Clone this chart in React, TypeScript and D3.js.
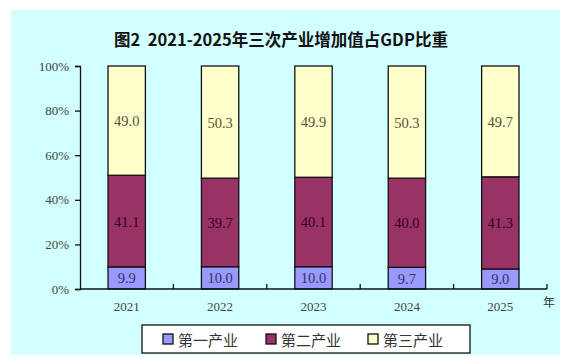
import React, { useEffect, useRef } from 'react';
import * as d3 from 'd3';

const years = ['2021', '2022', '2023', '2024', '2025'];
const primary = [9.9, 10.0, 10.0, 9.7, 9.0];
const secondary = [41.1, 39.7, 40.1, 40.0, 41.3];
const tertiary = [49.0, 50.3, 49.9, 50.3, 49.7];
const seriesNames = ['第一产业', '第二产业', '第三产业'];
const seriesColors = ['#9999ff', '#993366', '#ffffcc'];
const labelColors = ['#333366', '#330022', '#555533'];
const yTicks = [0, 20, 40, 60, 80, 100];

export default function App() {
  const ref = useRef<SVGSVGElement>(null);

  useEffect(() => {
    const svg = d3.select(ref.current);
    svg.selectAll('*').remove();

    const serif = '"Liberation Serif", "DejaVu Serif", serif';
    const cjk = '"Noto Sans CJK SC", sans-serif';

    // panel background
    svg.append('rect')
      .attr('x', 11).attr('y', 10).attr('width', 549).attr('height', 345)
      .attr('fill', '#d2ffff');

    svg.append('text')
      .attr('x', 281).attr('y', 46)
      .attr('text-anchor', 'middle')
      .attr('font-family', cjk)
      .attr('font-weight', 'bold')
      .attr('font-size', 16.5)
      .attr('fill', '#111')
      .text('图2\u00a0\u00a02021-2025年三次产业增加值占GDP比重');

    const left = 80, right = 547, top = 66, bottom = 289;

    const x = d3.scaleBand().domain(years).range([left, right]).paddingInner(0.6).paddingOuter(0.3);
    const y = d3.scaleLinear().domain([0, 100]).range([bottom, top]);

    // stacked data
    const rows = years.map((yr, i) => ({ year: yr, s0: primary[i], s1: secondary[i], s2: tertiary[i] }));
    const stack = d3.stack<any>().keys(['s0', 's1', 's2'])(rows);

    const g = svg.append('g');
    stack.forEach((layer, k) => {
      layer.forEach((d: any) => {
        const yr = d.data.year;
        g.append('rect')
          .attr('x', x(yr)!)
          .attr('y', y(d[1]))
          .attr('width', x.bandwidth())
          .attr('height', y(d[0]) - y(d[1]))
          .attr('fill', seriesColors[k])
          .attr('stroke', '#111')
          .attr('stroke-width', 1.3);
        g.append('text')
          .attr('x', x(yr)! + x.bandwidth() / 2)
          .attr('y', (y(d[0]) + y(d[1])) / 2 + 5.5)
          .attr('text-anchor', 'middle')
          .attr('font-family', serif)
          .attr('font-size', 14.5)
          .attr('fill', labelColors[k])
          .text((d[1] - d[0]).toFixed(1));
      });
    });

    // y axis
    const yAxis = svg.append('g')
      .attr('transform', `translate(${left},0)`)
      .call(d3.axisLeft(y).tickValues(yTicks).tickSize(5).tickSizeOuter(5).tickFormat(d => `${d}%`));
    yAxis.selectAll('path, line').attr('stroke', '#111').attr('stroke-width', 1.3);
    yAxis.selectAll('text')
      .attr('font-family', serif).attr('font-size', 13).attr('fill', '#444').attr('x', -11);

    // x axis
    const xAxis = svg.append('g').attr('transform', `translate(0,${bottom})`);
    xAxis.append('line')
      .attr('x1', left).attr('x2', right).attr('y1', 0).attr('y2', 0)
      .attr('stroke', '#111').attr('stroke-width', 1.3);
    d3.range(1, years.length + 1).forEach(i => {
      xAxis.append('line')
        .attr('x1', left + (right - left) * i / years.length)
        .attr('x2', left + (right - left) * i / years.length)
        .attr('y1', 0).attr('y2', -5)
        .attr('stroke', '#111').attr('stroke-width', 1.3);
    });
    years.forEach(yr => {
      xAxis.append('text')
        .attr('x', x(yr)! + x.bandwidth() / 2)
        .attr('y', 22)
        .attr('text-anchor', 'middle')
        .attr('font-family', serif).attr('font-size', 13).attr('fill', '#444')
        .text(yr);
    });
    xAxis.append('text')
      .attr('x', right - 4).attr('y', 18)
      .attr('font-family', cjk).attr('font-size', 12).attr('fill', '#333')
      .text('年');

    // legend
    const legend = svg.append('g');
    legend.append('rect')
      .attr('x', 142).attr('y', 325).attr('width', 328).attr('height', 28)
      .attr('fill', '#fff').attr('stroke', '#111').attr('stroke-width', 1.3);
    const legendX = [163, 266, 368];
    seriesNames.forEach((name, k) => {
      legend.append('rect')
        .attr('x', legendX[k]).attr('y', 334).attr('width', 10).attr('height', 10)
        .attr('fill', seriesColors[k]).attr('stroke', '#111').attr('stroke-width', 1.3);
      legend.append('text')
        .attr('x', legendX[k] + 15).attr('y', 345.5)
        .attr('font-family', cjk).attr('font-size', 15).attr('fill', '#333')
        .text(name);
    });
  }, []);

  return (
    <svg ref={ref} width={575} height={364}
      style={{ position: 'absolute', left: 0, top: 0, background: '#fff' }} />
  );
}
